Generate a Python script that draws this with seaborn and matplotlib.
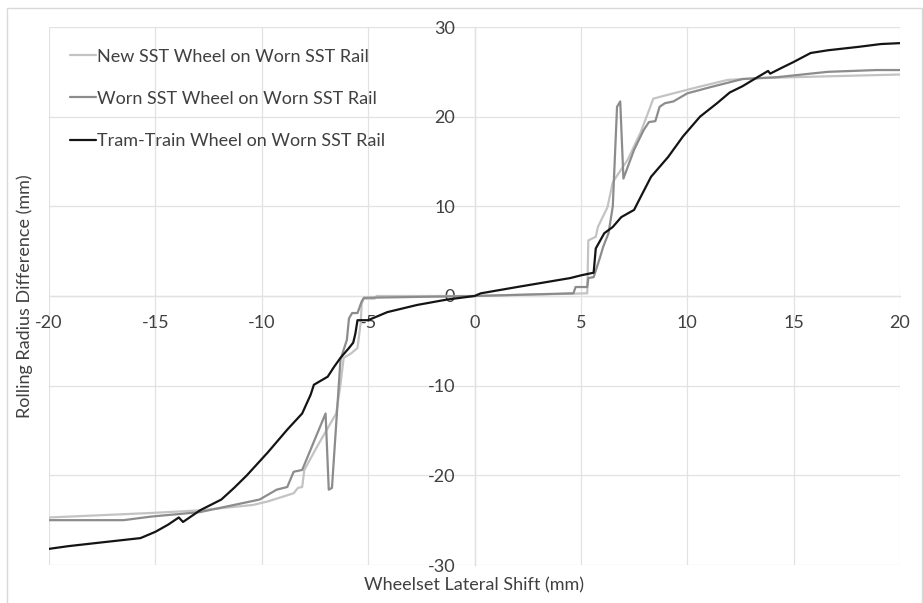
import numpy as np
import pandas as pd
import matplotlib
matplotlib.use("Agg")
import matplotlib.pyplot as plt
import seaborn as sns
from matplotlib.patches import Rectangle

# Rolling radius difference vs wheelset lateral shift, three wheel/rail pairs
new_x = [-20, -15.2, -12.9, -10.4, -9.7, -8.5, -8.3, -8.1, -8.0, -7.4, -6.5, -6.3,
         -6.15, -5.8, -5.5, -5.35, -5.3, -5.2, -4.7, -4.6, 0, 5.3, 5.35, 5.7, 5.8,
         6.25, 6.5, 7.2, 7.8, 8.2, 8.4, 8.7, 9.35, 10.5, 11.9, 13.4, 16.6, 20]
new_y = [-24.7, -24.2, -23.9, -23.3, -22.9, -22.0, -21.4, -21.3, -19.4, -16.8, -13.1, -9.9,
         -6.9, -6.4, -5.8, -3.0, -0.8, -0.3, -0.3, 0.0, 0.0, 0.3, 6.2, 6.6, 7.7,
         9.9, 12.7, 15.2, 18.2, 20.7, 22.0, 22.2, 22.6, 23.3, 24.1, 24.3, 24.5, 24.7]

worn_x = [-20, -16.5, -15.2, -12.9, -11.3, -10.1, -9.3, -8.8, -8.5, -8.1, -7.0, -6.85,
          -6.7, -6.3, -6.0, -5.9, -5.75, -5.5, -5.3, -5.2, 0, 4.65, 4.75, 5.3, 5.35,
          5.6, 5.9, 6.05, 6.3, 6.5, 6.7, 6.85, 7.0, 7.5, 7.95, 8.2, 8.5, 8.7, 8.95,
          9.35, 10.0, 11.1, 12.6, 14.2, 16.6, 18.9, 20]
worn_y = [-25.0, -25.0, -24.6, -24.1, -23.3, -22.7, -21.6, -21.3, -19.6, -19.4, -13.1, -21.6,
          -21.4, -7.1, -4.9, -2.5, -1.9, -1.9, -0.6, -0.2, 0.0, 0.3, 1.0, 1.0, 2.0,
          2.1, 4.3, 5.5, 7.0, 10.0, 21.1, 21.7, 13.1, 16.3, 18.5, 19.4, 19.5, 21.1, 21.5,
          21.7, 22.6, 23.3, 24.2, 24.4, 25.0, 25.2, 25.2]

tram_x = [-20, -19.1, -17.6, -15.7, -15.0, -14.4, -13.9, -13.7, -12.9, -11.9, -11.3, -10.7,
          -9.7, -8.8, -8.1, -7.7, -7.55, -6.9, -6.6, -6.3, -5.9, -5.7, -5.6, -5.5, -5.0,
          -4.1, -2.7, -1.3, 0, 0.3, 2.0, 4.5, 5.0, 5.6, 5.7, 6.1, 6.5, 6.9, 7.5, 7.8,
          8.3, 9.1, 9.8, 10.6, 11.4, 12.0, 12.6, 13.3, 13.8, 13.9, 14.4, 15.0, 15.8,
          16.6, 18.1, 19.1, 20]
tram_y = [-28.2, -27.9, -27.5, -27.0, -26.3, -25.5, -24.7, -25.2, -23.9, -22.7, -21.4, -20.0,
          -17.4, -14.9, -13.1, -11.0, -9.9, -9.0, -7.9, -6.9, -5.8, -5.2, -4.2, -2.7, -2.7,
          -1.8, -1.0, -0.4, 0.0, 0.3, 1.0, 2.0, 2.3, 2.6, 5.3, 7.0, 7.7, 8.8, 9.6, 11.0,
          13.3, 15.5, 17.8, 20.0, 21.5, 22.7, 23.4, 24.4, 25.1, 24.8, 25.4, 26.1, 27.1,
          27.4, 27.8, 28.1, 28.2]

series_names = ["New SST Wheel on Worn SST Rail",
                "Worn SST Wheel on Worn SST Rail",
                "Tram-Train Wheel on Worn SST Rail"]
series_colors = ["#c3c3c3", "#8c8c8c", "#141414"]

x_ticks = [-20, -15, -10, -5, 0, 5, 10, 15, 20]
y_ticks = [-30, -20, -10, 0, 10, 20, 30]

frames = []
for name, xs, ys in zip(series_names, [new_x, worn_x, tram_x], [new_y, worn_y, tram_y]):
    frames.append(pd.DataFrame({"shift": xs, "diff": ys, "series": name}))
df = pd.concat(frames, ignore_index=True)

sns.set_theme(style="white")
plt.rcParams['font.family'] = ['Lato', 'DejaVu Sans']
plt.rcParams['axes.unicode_minus'] = False

fig = plt.figure(figsize=(9.23, 6.03), dpi=100)
ax = fig.add_axes([49 / 923, 1 - 565 / 603, (900 - 49) / 923, (565 - 27) / 603])

sns.lineplot(data=df, x="shift", y="diff", hue="series", hue_order=series_names,
             palette=dict(zip(series_names, series_colors)), sort=False,
             estimator=None, linewidth=1.6, ax=ax)

ax.set_xlim(-20, 20)
ax.set_ylim(-30, 30)
ax.set_xticks(x_ticks)
ax.set_yticks(y_ticks)
ax.grid(True, color="#e2e2e2", linewidth=0.9)
ax.set_axisbelow(True)

for side in ["top", "right"]:
    ax.spines[side].set_visible(False)
ax.spines["left"].set_position(("data", 0))
ax.spines["bottom"].set_position(("data", 0))
for side in ["left", "bottom"]:
    ax.spines[side].set_color("#d6d6d6")
    ax.spines[side].set_linewidth(0.9)
    ax.spines[side].set_zorder(0.5)

ax.tick_params(axis="both", length=0, labelsize=13, labelcolor="#404040")
ax.tick_params(axis="x", pad=14)
ax.tick_params(axis="y", pad=14)
ax.set_xlabel("")
ax.set_ylabel("")

fig.text(474 / 923, 1 - 585 / 603, "Wheelset Lateral Shift (mm)", ha="center",
         va="center", fontsize=13, color="#404040")
fig.text(25 / 923, 1 - 296 / 603, "Rolling Radius Difference (mm)", ha="center",
         va="center", rotation=90, fontsize=13, color="#404040")

leg = ax.legend(loc="upper left", bbox_to_anchor=(0.025, 0.96), frameon=False,
                handlelength=1.4, handletextpad=0.08, labelspacing=1.45,
                borderaxespad=0, borderpad=0, fontsize=13)
for t in leg.get_texts():
    t.set_color("#404040")

fig.patches.append(Rectangle((7 / 923, -0.05), 1 - 7 / 923 - 0.6 / 923, 1.05 - 8 / 603,
                             transform=fig.transFigure, fill=False,
                             edgecolor="#d9d9d9", linewidth=1.0))

fig.savefig("out.png", dpi=100)
